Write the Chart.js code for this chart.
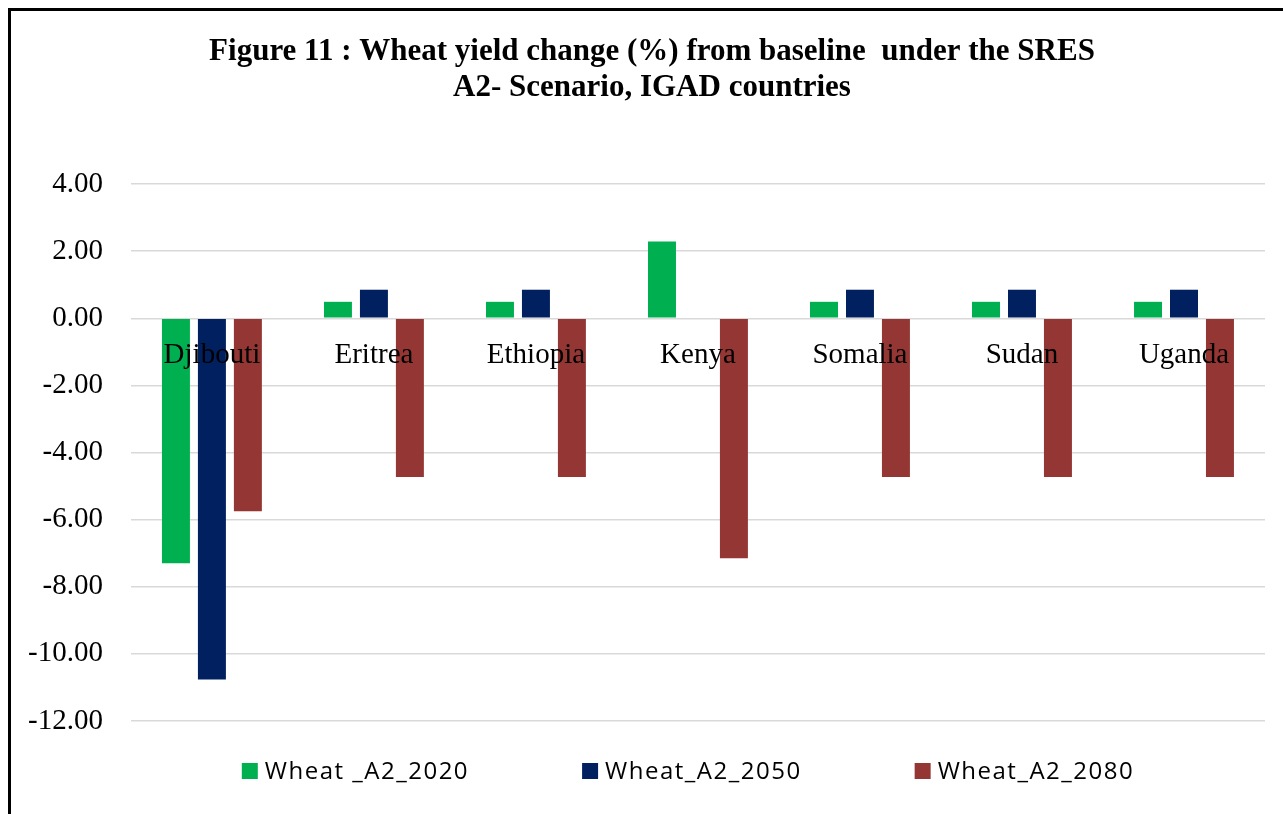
<!DOCTYPE html>
<html>
<head>
<meta charset="utf-8">
<title>Wheat yield change, SRES A2</title>
<script src="https://cdn.jsdelivr.net/npm/chart.js@4/dist/chart.umd.min.js"></script>
<style>
  html, body { margin: 0; padding: 0; background: #fff; }
  #wrap { position: relative; width: 1283px; height: 814px; overflow: hidden; }
  #frame { position: absolute; left: 8px; top: 8px; width: 1400px; height: 900px;
           border-top: 3px solid #000; border-left: 3px solid #000; box-sizing: border-box; pointer-events: none; }
  canvas { position: absolute; left: 0; top: 0; }
</style>
</head>
<body>
<div id="wrap">
  <canvas id="chart" width="1283" height="814"></canvas>
  <div id="frame"></div>
</div>
<script>
// Countries of the IGAD region
const countries = ['Djibouti', 'Eritrea', 'Ethiopia', 'Kenya', 'Somalia', 'Sudan', 'Uganda'];

// Wheat yield change (%) from baseline, per period
const wheat2020 = [-7.30, 0.49, 0.49, 2.29, 0.49, 0.49, 0.49];
const wheat2050 = [-10.76, 0.85, 0.85, 0.00, 0.85, 0.85, 0.85];
const wheat2080 = [-5.75, -4.73, -4.73, -7.15, -4.73, -4.73, -4.73];

const seriesNames = ['Wheat _A2_2020', 'Wheat_A2_2050', 'Wheat_A2_2080'];
const titleLines = ['Figure 11 : Wheat yield change (%) from baseline  under the SRES', 'A2- Scenario, IGAD countries'];

const yMin = -12, yMax = 4, yStep = 2;

const serif = "'Liberation Serif', 'Times New Roman', serif";
const sans = "'Open Sans', 'Noto Sans', sans-serif";

// Two-line bold heading above the plot
const figureTitle = {
  id: 'figureTitle',
  afterDraw(chart, args, opts) {
    const ctx = chart.ctx;
    ctx.save();
    ctx.font = opts.font;
    ctx.fillStyle = '#000';
    ctx.textAlign = 'center';
    ctx.textBaseline = 'middle';
    opts.lines.forEach((line, i) => ctx.fillText(line, opts.x, opts.y + i * opts.lineHeight));
    ctx.restore();
  }
};

// Legend row drawn under the plot
const bottomLegend = {
  id: 'bottomLegend',
  afterDraw(chart, args, opts) {
    const ctx = chart.ctx;
    ctx.save();
    ctx.font = opts.font;
    if ('letterSpacing' in ctx) ctx.letterSpacing = opts.letterSpacing;
    ctx.textBaseline = 'middle';
    ctx.textAlign = 'left';
    const items = chart.data.datasets.map(ds => ({
      text: ds.label, color: ds.backgroundColor,
      w: opts.box + opts.textGap + ctx.measureText(ds.label).width
    }));
    const total = items.reduce((s, it) => s + it.w, 0) + opts.itemGap * (items.length - 1);
    let x = opts.x - total / 2;
    const y = opts.y;
    items.forEach(it => {
      ctx.fillStyle = it.color;
      ctx.fillRect(x, y - opts.box / 2, opts.box, opts.box);
      ctx.fillStyle = '#000';
      ctx.fillText(it.text, x + opts.box + opts.textGap, y + 1);
      x += it.w + opts.itemGap;
    });
    ctx.restore();
  }
};

new Chart(document.getElementById('chart'), {
  type: 'bar',
  data: {
    labels: countries,
    datasets: [
      { label: seriesNames[0], data: wheat2020, backgroundColor: '#00B050' },
      { label: seriesNames[1], data: wheat2050, backgroundColor: '#002060' },
      { label: seriesNames[2], data: wheat2080, backgroundColor: '#943634' }
    ]
  },
  options: {
    responsive: false,
    animation: false,
    events: [],
    layout: { padding: { left: 0, right: 18, top: 184, bottom: 93 } },
    datasets: {
      bar: { categoryPercentage: 0.666, barPercentage: 0.778 }
    },
    plugins: {
      legend: { display: false },
      title: { display: false },
      tooltip: { enabled: false },
      figureTitle: { lines: titleLines, font: 'bold 31px ' + serif, x: 652, y: 51.5, lineHeight: 36 },
      bottomLegend: { font: '24px ' + sans, letterSpacing: '1.5px', box: 16, textGap: 7, itemGap: 113, x: 688, y: 771 }
    },
    scales: {
      x: {
        position: { y: 0 },
        grid: { display: false, drawTicks: false },
        border: { display: false },
        ticks: { z: 1, color: '#000', font: { family: serif, size: 29 }, padding: 20, maxRotation: 0 }
      },
      y: {
        min: yMin,
        max: yMax,
        grid: { color: '#d9d9d9', lineWidth: 1.5, drawTicks: false },
        border: { display: false },
        ticks: {
          stepSize: yStep,
          padding: 28,
          color: '#000',
          font: { family: serif, size: 29 },
          callback: v => v.toFixed(2)
        }
      }
    }
  },
  plugins: [figureTitle, bottomLegend]
});
</script>
</body>
</html>
